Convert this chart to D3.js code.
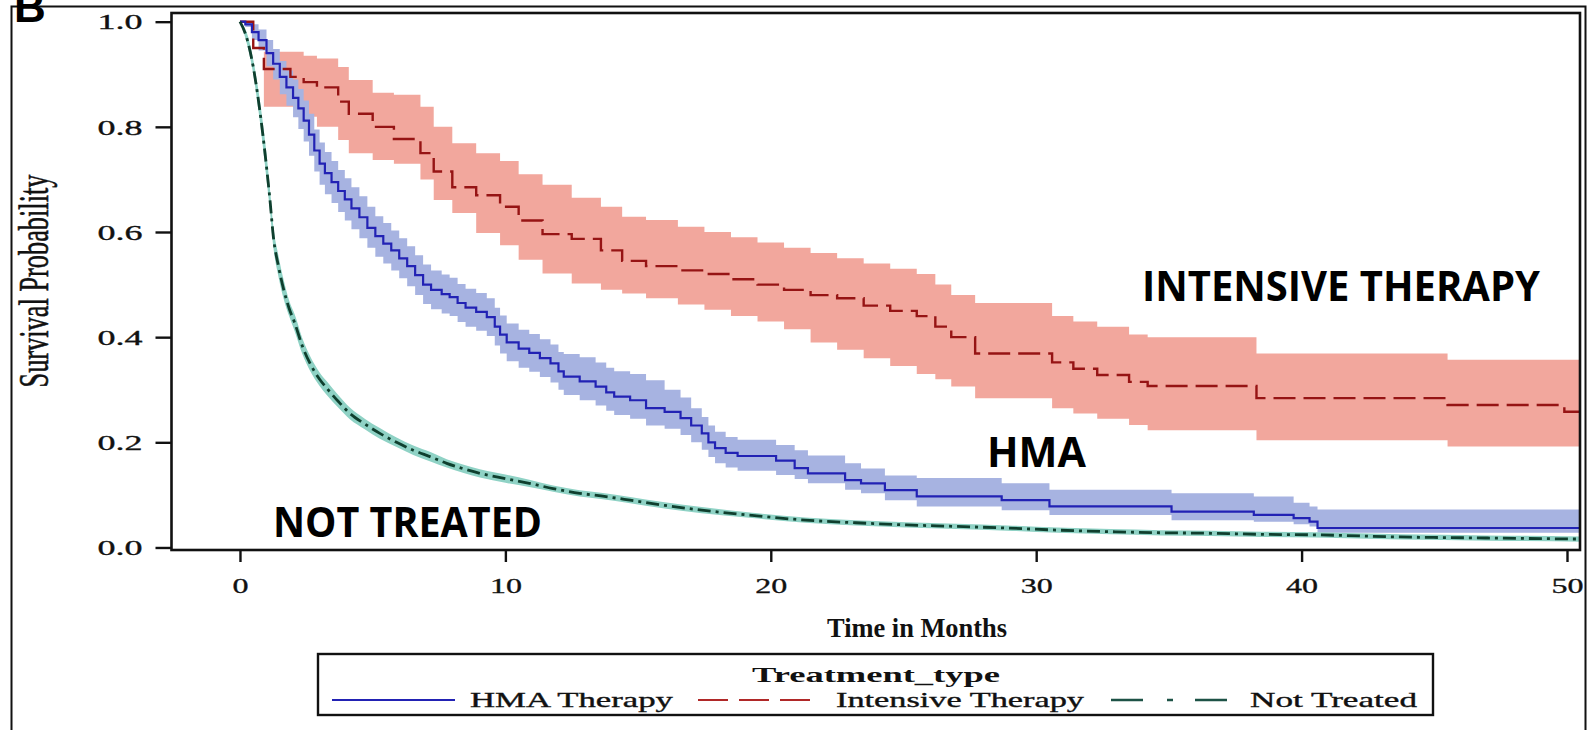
<!DOCTYPE html>
<html>
<head>
<meta charset="utf-8">
<script src="https://cdn.jsdelivr.net/npm/d3@7"></script>
<style>
  body { margin: 0; background: #fff; }
  svg { display: block; }
</style>
</head>
<body>
<svg id="chart" width="1587" height="730"></svg>
<script>
// ---- data (months, survival probability) ----
const hmaTime = [0, 0.2, 0.45, 0.7, 1.0, 1.25, 1.5, 1.75, 2.0, 2.2, 2.4, 2.6, 2.8, 3.0, 3.2, 3.45, 3.7, 3.95, 4.2, 4.5, 4.8, 5.1, 5.4, 5.7, 6.0, 6.3, 6.6, 6.9, 7.2, 7.6, 7.9, 8.2, 8.5, 8.9, 9.3, 9.6, 9.8, 10.05, 10.5, 10.9, 11.3, 11.7, 12.0, 12.2, 12.8, 13.4, 13.8, 14.1, 14.7, 15.3, 16.0, 16.6, 17.0, 17.4, 17.65, 17.9, 18.3, 18.75, 20.2, 20.9, 21.4, 22.8, 23.4, 24.3, 25.5, 28.7, 30.5, 35.1, 38.2, 39.7, 40.3, 40.6, 50.5];
const hmaSurv = [1.0, 0.995, 0.98, 0.965, 0.94, 0.92, 0.895, 0.875, 0.855, 0.835, 0.812, 0.785, 0.755, 0.73, 0.712, 0.695, 0.678, 0.662, 0.645, 0.628, 0.608, 0.592, 0.578, 0.565, 0.55, 0.535, 0.518, 0.50, 0.49, 0.482, 0.476, 0.465, 0.456, 0.448, 0.438, 0.42, 0.405, 0.39, 0.378, 0.37, 0.36, 0.35, 0.335, 0.325, 0.316, 0.306, 0.295, 0.287, 0.28, 0.265, 0.258, 0.246, 0.232, 0.217, 0.2, 0.189, 0.18, 0.174, 0.165, 0.151, 0.141, 0.128, 0.122, 0.109, 0.097, 0.09, 0.078, 0.068, 0.062, 0.056, 0.049, 0.037, 0.037];
const hmaLow = [1.0, 0.99, 0.965, 0.945, 0.915, 0.89, 0.862, 0.84, 0.818, 0.796, 0.772, 0.745, 0.715, 0.69, 0.672, 0.655, 0.638, 0.622, 0.605, 0.588, 0.57, 0.553, 0.54, 0.527, 0.512, 0.497, 0.48, 0.463, 0.453, 0.445, 0.44, 0.429, 0.42, 0.412, 0.402, 0.384, 0.369, 0.354, 0.342, 0.334, 0.324, 0.314, 0.30, 0.29, 0.28, 0.27, 0.26, 0.252, 0.245, 0.232, 0.226, 0.214, 0.20, 0.186, 0.172, 0.16, 0.152, 0.146, 0.138, 0.13, 0.122, 0.11, 0.103, 0.09, 0.078, 0.071, 0.062, 0.052, 0.049, 0.044, 0.04, 0.028, 0.028];
const hmaHigh = [1.0, 1.0, 0.995, 0.985, 0.965, 0.948, 0.925, 0.907, 0.89, 0.872, 0.85, 0.825, 0.795, 0.77, 0.752, 0.735, 0.718, 0.702, 0.685, 0.668, 0.648, 0.63, 0.617, 0.603, 0.588, 0.573, 0.556, 0.538, 0.527, 0.519, 0.513, 0.501, 0.492, 0.484, 0.474, 0.456, 0.441, 0.426, 0.414, 0.406, 0.396, 0.386, 0.372, 0.368, 0.362, 0.352, 0.342, 0.335, 0.33, 0.318, 0.30, 0.285, 0.265, 0.248, 0.232, 0.22, 0.21, 0.205, 0.195, 0.185, 0.175, 0.16, 0.15, 0.137, 0.132, 0.122, 0.11, 0.103, 0.097, 0.085, 0.078, 0.072, 0.072];

const intTime = [0, 0.5, 0.9, 1.9, 2.4, 2.9, 3.7, 4.1, 5.0, 5.8, 6.8, 7.3, 8.0, 8.9, 9.8, 10.5, 11.4, 12.5, 13.6, 14.4, 15.3, 16.5, 17.5, 18.5, 19.5, 20.5, 21.5, 22.5, 23.5, 24.5, 25.5, 26.2, 26.8, 27.7, 30.6, 31.4, 32.3, 33.5, 34.2, 38.3, 45.5, 49.9, 50.5];
const intSurv = [1.0, 0.95, 0.91, 0.895, 0.885, 0.875, 0.848, 0.825, 0.80, 0.777, 0.75, 0.715, 0.685, 0.67, 0.648, 0.622, 0.596, 0.587, 0.565, 0.545, 0.535, 0.527, 0.52, 0.51, 0.50, 0.49, 0.48, 0.474, 0.46, 0.45, 0.44, 0.42, 0.40, 0.369, 0.352, 0.34, 0.328, 0.315, 0.307, 0.284, 0.271, 0.258, 0.258];
const intLow = [1.0, 0.95, 0.838, 0.838, 0.819, 0.80, 0.775, 0.75, 0.737, 0.73, 0.70, 0.661, 0.636, 0.598, 0.575, 0.547, 0.521, 0.502, 0.49, 0.483, 0.474, 0.462, 0.452, 0.44, 0.43, 0.415, 0.39, 0.376, 0.36, 0.345, 0.33, 0.32, 0.306, 0.284, 0.265, 0.255, 0.245, 0.233, 0.223, 0.204, 0.192, 0.192, 0.192];
const intHigh = [1.0, 0.95, 0.943, 0.943, 0.935, 0.93, 0.914, 0.889, 0.865, 0.861, 0.838, 0.80, 0.769, 0.75, 0.735, 0.71, 0.69, 0.665, 0.648, 0.629, 0.623, 0.61, 0.60, 0.59, 0.58, 0.57, 0.56, 0.55, 0.54, 0.53, 0.52, 0.50, 0.48, 0.465, 0.44, 0.43, 0.42, 0.405, 0.40, 0.369, 0.357, 0.357, 0.357];

const ntTime = [0, 0.25, 0.5, 0.75, 1.0, 1.13, 1.26, 1.45, 1.65, 1.85, 2.07, 2.35, 2.64, 3.0, 3.27, 3.7, 4.14, 4.7, 5.27, 5.9, 6.53, 7.2, 7.79, 8.4, 9.04, 10.0, 10.9, 11.8, 12.8, 13.6, 14.7, 16.0, 17.4, 19.3, 21.3, 23.2, 25.1, 27.0, 28.9, 30.8, 32.8, 34.7, 36.6, 38.5, 40.5, 43.7, 47.0, 50.5];
const ntSurv = [1.0, 0.97, 0.914, 0.83, 0.724, 0.661, 0.59, 0.535, 0.49, 0.455, 0.426, 0.383, 0.35, 0.32, 0.303, 0.278, 0.255, 0.235, 0.217, 0.20, 0.185, 0.172, 0.16, 0.15, 0.141, 0.131, 0.122, 0.112, 0.103, 0.098, 0.09, 0.08, 0.071, 0.061, 0.052, 0.047, 0.043, 0.04, 0.037, 0.033, 0.03, 0.028, 0.027, 0.025, 0.024, 0.02, 0.018, 0.016];
const ntLow = [1.0, 0.96, 0.9, 0.81, 0.70, 0.64, 0.57, 0.515, 0.472, 0.44, 0.41, 0.368, 0.336, 0.307, 0.29, 0.266, 0.244, 0.225, 0.207, 0.191, 0.176, 0.163, 0.152, 0.142, 0.133, 0.123, 0.115, 0.106, 0.097, 0.092, 0.084, 0.074, 0.065, 0.056, 0.047, 0.042, 0.038, 0.035, 0.032, 0.028, 0.025, 0.023, 0.022, 0.02, 0.019, 0.015, 0.013, 0.011];
const ntHigh = [1.0, 0.98, 0.928, 0.85, 0.748, 0.682, 0.61, 0.555, 0.508, 0.47, 0.442, 0.398, 0.364, 0.333, 0.316, 0.29, 0.266, 0.245, 0.227, 0.209, 0.194, 0.181, 0.168, 0.158, 0.149, 0.139, 0.129, 0.118, 0.109, 0.104, 0.096, 0.086, 0.077, 0.066, 0.057, 0.052, 0.048, 0.045, 0.042, 0.038, 0.035, 0.033, 0.032, 0.03, 0.029, 0.025, 0.023, 0.021];

const xTicks = [0, 10, 20, 30, 40, 50];
const yTicks = [0, 0.2, 0.4, 0.6, 0.8, 1.0];
const legendLabels = ["HMA Therapy", "Intensive Therapy", "Not Treated"];

// ---- layout ----
const plot = { left: 171.5, top: 13, right: 1580, bottom: 550 };
const serif = "'Liberation Serif', 'Times New Roman', serif";
const sans = "'Open Sans', 'Noto Sans', sans-serif";

const svg = d3.select("#chart");

const x = d3.scaleLinear().domain([-2.58, 50.49]).range([plot.left, plot.right]);
const y = d3.scaleLinear().domain([-0.0048, 1.0165]).range([plot.bottom, plot.top]);

// the original figure was stretched sideways, so texts get a fixed length
function stretch(sel, len) {
    sel.attr("textLength", len).attr("lengthAdjust", "spacingAndGlyphs");
}
function heavy(sel) {
    sel.attr("stroke", "#111").attr("stroke-width", 0.35);
}

function rows(t, s, lo, hi) {
    return t.map((d, i) => ({ t: d, s: s[i], lo: lo[i], hi: hi[i] }));
}
const hma = rows(hmaTime, hmaSurv, hmaLow, hmaHigh);
const inten = rows(intTime, intSurv, intLow, intHigh);
const notTr = rows(ntTime, ntSurv, ntLow, ntHigh);

// outer frame (bottom edge is cut off in the original)
svg.append("path")
    .attr("d", "M11.5,735 V6.5 H1585.5 V735")
    .attr("fill", "none")
    .attr("stroke", "#111")
    .attr("stroke-width", 2);

// panel letter, mostly cropped away in the original
svg.append("text")
    .attr("x", 14).attr("y", 22)
    .attr("font-family", "'Liberation Sans', Arial, sans-serif")
    .attr("font-weight", 700)
    .attr("font-size", 44)
    .text("B");

svg.append("defs").append("clipPath").attr("id", "plotClip")
    .append("rect")
    .attr("x", plot.left).attr("y", plot.top)
    .attr("width", plot.right - plot.left).attr("height", plot.bottom - plot.top);

const g = svg.append("g").attr("clip-path", "url(#plotClip)");

const stepArea = d3.area().curve(d3.curveStepAfter)
    .x(d => x(d.t)).y0(d => y(d.lo)).y1(d => y(d.hi));
const stepLine = d3.line().curve(d3.curveStepAfter)
    .x(d => x(d.t)).y(d => y(d.s));
const smoothArea = d3.area().curve(d3.curveMonotoneX)
    .x(d => x(d.t)).y0(d => y(d.lo)).y1(d => y(d.hi));
const smoothLine = d3.line().curve(d3.curveMonotoneX)
    .x(d => x(d.t)).y(d => y(d.s));

// confidence bands
g.append("path").datum(inten).attr("d", stepArea).attr("fill", "#f2a79d");
g.append("path").datum(hma).attr("d", stepArea).attr("fill", "#a7b3e1");
g.append("path").datum(notTr).attr("d", smoothArea).attr("fill", "#8fd2c5");

// survival curves
g.append("path").datum(inten).attr("d", stepLine)
    .attr("fill", "none").attr("stroke", "#961414").attr("stroke-width", 2.4)
    .attr("stroke-dasharray", "22,8");
g.append("path").datum(hma).attr("d", stepLine)
    .attr("fill", "none").attr("stroke", "#2222b4").attr("stroke-width", 2.2);
g.append("path").datum(notTr).attr("d", smoothLine)
    .attr("fill", "none").attr("stroke", "#0f3f2e").attr("stroke-width", 2.8)
    .attr("stroke-dasharray", "13,5,3,5");

// plot frame
svg.append("rect")
    .attr("x", plot.left).attr("y", plot.top)
    .attr("width", plot.right - plot.left).attr("height", plot.bottom - plot.top)
    .attr("fill", "none").attr("stroke", "#111").attr("stroke-width", 2.6);

// axes
const yAxis = svg.append("g")
    .attr("transform", `translate(${plot.left},0)`)
    .call(d3.axisLeft(y).tickValues(yTicks).tickFormat(d3.format(".1f")).tickSize(16).tickPadding(13));
const xAxis = svg.append("g")
    .attr("transform", `translate(0,${plot.bottom})`)
    .call(d3.axisBottom(x).tickValues(xTicks).tickFormat(d3.format("d")).tickSize(12).tickPadding(15));

[yAxis, xAxis].forEach(ax => {
    ax.select(".domain").remove();
    ax.selectAll(".tick line").attr("stroke", "#111").attr("stroke-width", 2.4);
    ax.selectAll(".tick text")
        .attr("font-family", serif)
        .attr("font-size", 22)
        .attr("fill", "#111")
        .call(heavy);
});
yAxis.selectAll(".tick text").attr("dy", "0.33em").call(stretch, 45);
xAxis.selectAll(".tick text").each(function(d) {
    d3.select(this).call(stretch, String(d).length * 16);
});

// axis titles
svg.append("text")
    .attr("transform", "translate(48,281) scale(1.65,1) rotate(-90)")
    .attr("text-anchor", "middle")
    .attr("font-family", serif)
    .attr("font-size", 26)
    .attr("fill", "#111")
    .call(heavy)
    .call(stretch, 213)
    .text("Survival Probability");

svg.append("text")
    .attr("x", 917).attr("y", 637)
    .attr("text-anchor", "middle")
    .attr("font-family", serif)
    .attr("font-weight", 700)
    .attr("font-size", 27)
    .attr("fill", "#111")
    .call(stretch, 180)
    .text("Time in Months");

// in-plot annotations
const notes = [
    { text: "INTENSIVE THERAPY", x: 1142, y: 301, w: 398 },
    { text: "HMA", x: 987, y: 467, w: 99 },
    { text: "NOT TREATED", x: 273, y: 537, w: 269 }
];
notes.forEach(n => {
    svg.append("text")
        .attr("x", n.x).attr("y", n.y)
        .attr("font-family", sans)
        .attr("font-weight", 700)
        .attr("font-size", 41)
        .attr("fill", "#000")
        .call(stretch, n.w)
        .text(n.text);
});

// legend
const legend = svg.append("g");
legend.append("rect")
    .attr("x", 318).attr("y", 654)
    .attr("width", 1433 - 318).attr("height", 715 - 654)
    .attr("fill", "#fff").attr("stroke", "#111").attr("stroke-width", 2.4);

legend.append("text")
    .attr("x", 876).attr("y", 682)
    .attr("text-anchor", "middle")
    .attr("font-family", serif)
    .attr("font-weight", 700)
    .attr("font-size", 22)
    .attr("fill", "#111")
    .call(stretch, 248)
    .text("Treatment_type");

const legendItems = [
    { x1: 332, x2: 455, tx: 470, tw: 203, stroke: "#2222b4", dash: null, w: 2 },
    { x1: 698, x2: 810, tx: 836, tw: 248, stroke: "#b02828", dash: "30,11", w: 2.2 },
    { x1: 1111, x2: 1232, tx: 1250, tw: 167, stroke: "#1d5246", dash: "32,24,6,22", w: 2.4 }
];
legendItems.forEach((d, i) => {
    legend.append("line")
        .attr("x1", d.x1).attr("x2", d.x2)
        .attr("y1", 700).attr("y2", 700)
        .attr("stroke", d.stroke).attr("stroke-width", d.w)
        .attr("stroke-dasharray", d.dash);
    legend.append("text")
        .attr("x", d.tx).attr("y", 707)
        .attr("font-family", serif)
        .attr("font-size", 21)
        .attr("fill", "#111")
        .call(heavy)
        .call(stretch, d.tw)
        .text(legendLabels[i]);
});
</script>
</body>
</html>
